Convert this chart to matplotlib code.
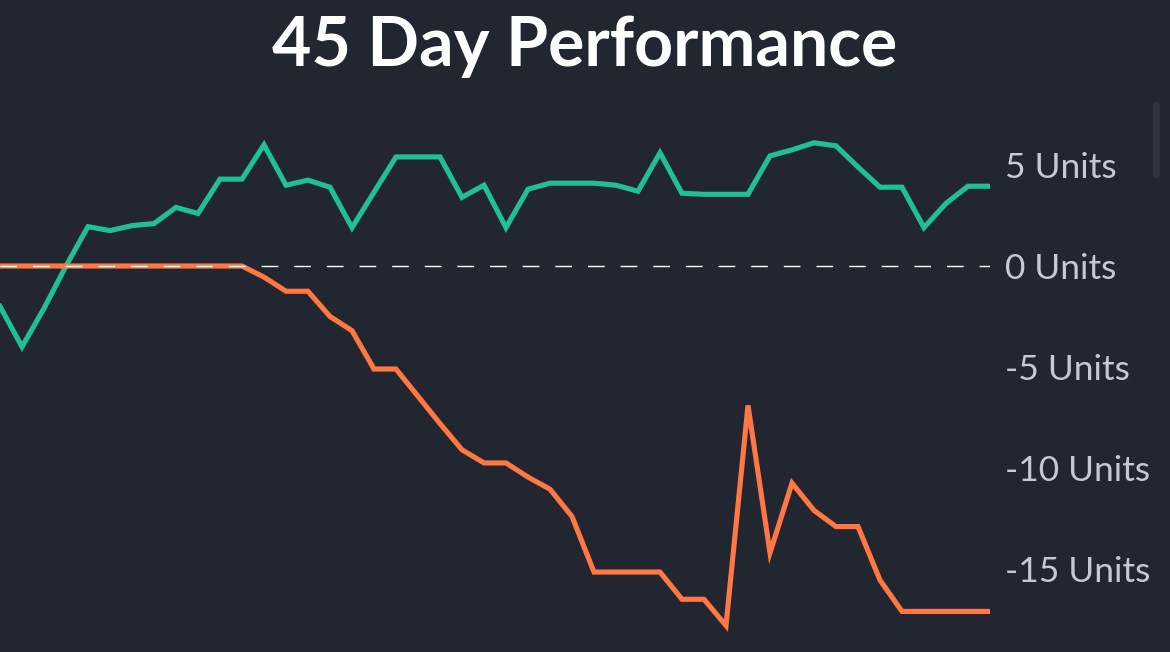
import matplotlib.pyplot as plt
from matplotlib.patches import FancyBboxPatch

# daily cumulative units
days = list(range(46))
green_units = [-2.0, -4.0, -2.1, 0.0, 1.95, 1.75, 2.0, 2.1, 2.9, 2.6,
               4.3, 4.3, 6.0, 4.0, 4.25, 3.9, 1.9, 3.65, 5.4, 5.4,
               5.4, 3.4, 4.0, 1.9, 3.8, 4.1, 4.1, 4.1, 4.0, 3.7,
               5.6, 3.6, 3.55, 3.55, 3.55, 5.45, 5.75, 6.1, 5.95, 4.9,
               3.9, 3.9, 1.9, 3.1, 3.95, 3.95]
orange_units = [0, 0, 0, 0, 0, 0, 0, 0, 0, 0,
                0, 0, -0.55, -1.25, -1.25, -2.5, -3.2, -5.1, -5.1, -6.45,
                -7.8, -9.1, -9.75, -9.75, -10.45, -11.05, -12.4, -15.15, -15.15, -15.15,
                -15.15, -16.5, -16.5, -17.8, -6.9, -14.2, -10.75, -12.1, -12.9, -12.9,
                -15.55, -17.1, -17.1, -17.1, -17.1, -17.1]
tick_vals = [5, 0, -5, -10, -15]
tick_labels = ['5 Units', '0 Units', '-5 Units', '-10 Units', '-15 Units']

bg = '#222630'
W, H = 1170, 652
fig = plt.figure(figsize=(W / 100, H / 100), dpi=100, facecolor=bg)

# axes spans pixel rows 110..652, zero line sits at row 266, 20.2 px per unit
ax = fig.add_axes([0, 0, 990 / W, (H - 110) / H])
ax.set_facecolor(bg)
ax.set_xlim(0, 45)
ax.set_ylim((266 - 652) / 20.2, (266 - 110) / 20.2)

ax.plot(days, green_units, color='#21BF99', lw=3.7, solid_joinstyle='miter', zorder=3)
ax.plot(days, orange_units, color='#FF7844', lw=3.7, solid_joinstyle='miter', zorder=3)
ax.axhline(0, color='white', lw=1.0, ls=(0, (12, 11.5)), zorder=4)

for s in ax.spines.values():
    s.set_visible(False)
ax.set_xticks([])
ax.yaxis.tick_right()
ax.set_yticks(tick_vals)
ax.set_yticklabels(tick_labels, fontfamily='Lato', fontsize=25.5, color='#C3CAD6')
ax.tick_params(axis='y', length=0, pad=11)

fig.text(585 / W, 1 - 47 / H, '45 Day Performance', ha='center', va='center',
         fontfamily='Lato', fontweight='bold', fontsize=49, color='white')

# scrollbar remnant at the right edge
fig.patches.append(FancyBboxPatch((1153 / W, 1 - 178 / H), 7 / W, 76 / H,
                                  boxstyle='round,pad=0,rounding_size=0.004',
                                  transform=fig.transFigure, facecolor='#2E333E',
                                  edgecolor='none'))

fig.savefig('out.png', dpi=100, facecolor=bg)
